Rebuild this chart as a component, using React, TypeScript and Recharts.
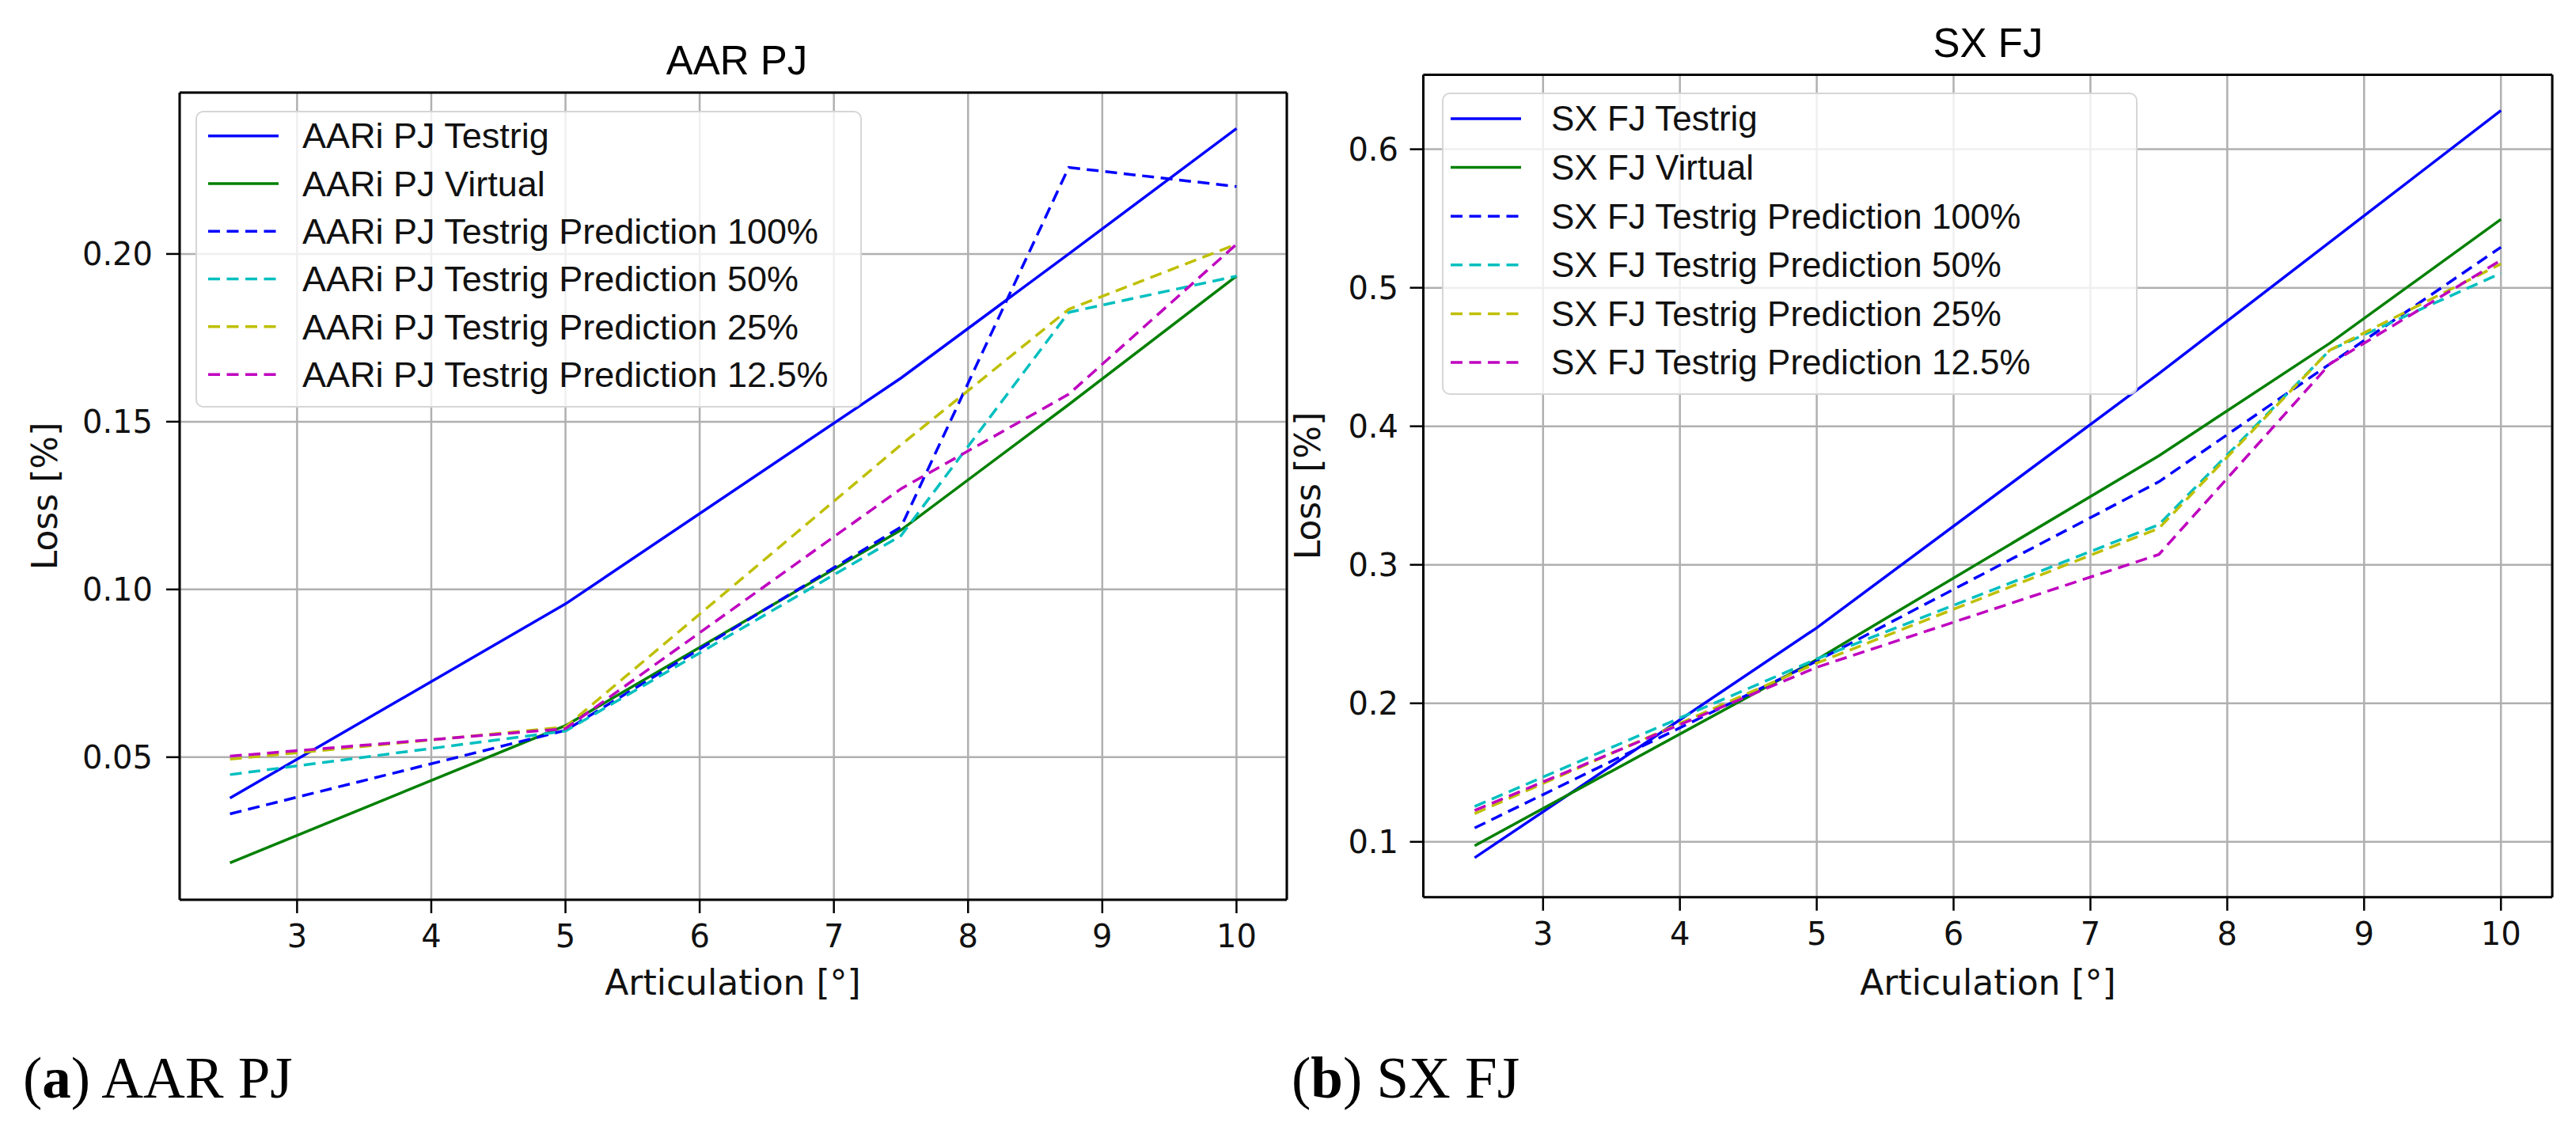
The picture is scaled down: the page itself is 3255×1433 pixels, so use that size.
import React from 'react';
import {
  LineChart, Line, XAxis, YAxis, CartesianGrid, Legend, ReferenceLine
} from 'recharts';

// articulation angles where the losses were sampled
const angles = [2.5, 5, 7.5, 8.75, 10];
const xTicks = [3, 4, 5, 6, 7, 8, 9, 10];

// (a) AAR PJ
const aarNames = [
  'AARi PJ Testrig',
  'AARi PJ Virtual',
  'AARi PJ Testrig Prediction 100%',
  'AARi PJ Testrig Prediction 50%',
  'AARi PJ Testrig Prediction 25%',
  'AARi PJ Testrig Prediction 12.5%',
];
const aarTestrig = [0.0378, 0.0957, 0.163, 0.2, 0.2374];
const aarVirtual = [0.0185, 0.0594, 0.1177, 0.1551, 0.1934];
const aarPred100 = [0.0331, 0.058, 0.1186, 0.2258, 0.2201];
const aarPred50 = [0.0448, 0.0578, 0.116, 0.1826, 0.1934];
const aarPred25 = [0.0494, 0.059, 0.1431, 0.1835, 0.2029];
const aarPred125 = [0.0503, 0.0585, 0.13, 0.1582, 0.2029];
const aarTicks = [0.05, 0.1, 0.15, 0.2];

// (b) SX FJ
const sxNames = [
  'SX FJ Testrig',
  'SX FJ Virtual',
  'SX FJ Testrig Prediction 100%',
  'SX FJ Testrig Prediction 50%',
  'SX FJ Testrig Prediction 25%',
  'SX FJ Testrig Prediction 12.5%',
];
const sxTestrig = [0.0885, 0.2545, 0.438, 0.533, 0.628];
const sxVirtual = [0.0972, 0.2316, 0.3787, 0.46, 0.5494];
const sxPred100 = [0.11, 0.2305, 0.3599, 0.445, 0.5293];
const sxPred50 = [0.1255, 0.232, 0.329, 0.455, 0.5105];
const sxPred25 = [0.1204, 0.229, 0.3263, 0.455, 0.5172];
const sxPred125 = [0.1226, 0.226, 0.3074, 0.445, 0.5199];
const sxTicks = [0.1, 0.2, 0.3, 0.4, 0.5, 0.6];

const DASH = '15 8.5';
const seriesStyle = [
  { color: '#0000ff', dash: undefined },
  { color: '#008000', dash: undefined },
  { color: '#0000ff', dash: DASH },
  { color: '#00bfbf', dash: DASH },
  { color: '#bfbf00', dash: DASH },
  { color: '#bf00bf', dash: DASH },
];

const toRows = (series: number[][]) =>
  angles.map((a, i) => {
    const row: Record<string, number> = { angle: a };
    series.forEach((s, k) => { row['s' + k] = s[i]; });
    return row;
  });

const aarData = toRows([aarTestrig, aarVirtual, aarPred100, aarPred50, aarPred25, aarPred125]);
const sxData = toRows([sxTestrig, sxVirtual, sxPred100, sxPred50, sxPred25, sxPred125]);

const tickFont = { fontSize: 40, fontFamily: 'DejaVu Sans', fill: '#111' };

function LegendBox({ names, w, h, padTop, rowH, lineX, textX, fontSize }: any) {
  return (
    <div style={{
      width: w, height: h, boxSizing: 'border-box', position: 'relative',
      border: '2.5px solid #d6d6d6', borderRadius: 10, background: 'rgba(255,255,255,0.8)',
    }}>
      <svg width={w} height={h} style={{ position: 'absolute', left: -2.5, top: -2.5 }}>
        {names.map((n: string, i: number) => {
          const cy = padTop + rowH * i + rowH / 2;
          const st = seriesStyle[i];
          return (
            <g key={n}>
              <line x1={lineX} x2={lineX + 89} y1={cy} y2={cy} stroke={st.color}
                strokeWidth={3.5} strokeDasharray={st.dash} />
              <text x={textX} y={cy + fontSize * 0.35} fontSize={fontSize}
                fontFamily="Liberation Sans, Arial" fill="#111">{n}</text>
            </g>
          );
        })}
      </svg>
    </div>
  );
}

function Panel({ data, names, width, height, margin, yDomain, yTicks, yFmt, yTickMargin, legend }: any) {
  return (
    <LineChart width={width} height={height} data={data} margin={margin}>
      <CartesianGrid stroke="#b0b0b0" strokeWidth={2.5} />
      <XAxis dataKey="angle" type="number" domain={[2.125, 10.375]} ticks={xTicks}
        allowDataOverflow height={130} tick={tickFont} tickSize={17} tickMargin={14.6}
        axisLine={{ stroke: '#000', strokeWidth: 3 }} tickLine={{ stroke: '#000', strokeWidth: 2.5 }} />
      <YAxis type="number" domain={yDomain} ticks={yTicks} allowDataOverflow width={120}
        tickFormatter={yFmt} tick={tickFont} tickSize={17} tickMargin={yTickMargin}
        axisLine={{ stroke: '#000', strokeWidth: 3 }} tickLine={{ stroke: '#000', strokeWidth: 2.5 }} />
      <ReferenceLine y={yDomain[1]} stroke="#000" strokeWidth={3} ifOverflow="visible" />
      <ReferenceLine x={10.375} stroke="#000" strokeWidth={3} ifOverflow="visible" />
      {names.map((n: string, i: number) => (
        <Line key={n} type="linear" dataKey={'s' + i} name={n} stroke={seriesStyle[i].color}
          strokeWidth={3.5} strokeDasharray={seriesStyle[i].dash} dot={false}
          isAnimationActive={false} />
      ))}
      <Legend layout="vertical" align="center" verticalAlign="middle"
        wrapperStyle={{ left: legend.left, top: legend.top, width: legend.w, height: legend.h }}
        content={() => <LegendBox names={names} {...legend} />} />
    </LineChart>
  );
}

export default function App() {
  const label = { fontFamily: 'DejaVu Sans', fontSize: 44, fill: '#111' };
  const title = { fontFamily: 'Liberation Sans, Arial', fontSize: 51, fill: '#000' };
  const caption = { fontFamily: 'Liberation Serif, serif', fontSize: 73, fill: '#000' };
  return (
    <div style={{ position: 'absolute', left: 0, top: 0, width: 3255, height: 1433, background: '#fff', overflow: 'hidden' }}>
      <div style={{ position: 'absolute', left: 0, top: 0 }}>
        <Panel data={aarData} names={aarNames} width={1660} height={1300}
          margin={{ top: 117, left: 107, right: 34, bottom: 33 }}
          yDomain={[0.0075, 0.2481]} yTicks={aarTicks} yFmt={(v: number) => v.toFixed(2)} yTickMargin={17}
          legend={{ left: 247, top: 140, w: 842, h: 375, padTop: 1.5, rowH: 60.3, lineX: 16, textX: 135, fontSize: 45 }} />
      </div>
      <div style={{ position: 'absolute', left: 1640, top: 0 }}>
        <Panel data={sxData} names={sxNames} width={1615} height={1300}
          margin={{ top: 94.6, left: 38.5, right: 30, bottom: 36.2 }}
          yDomain={[0.06, 0.6537]} yTicks={sxTicks} yFmt={(v: number) => v.toFixed(1)} yTickMargin={14.5}
          legend={{ left: 182, top: 117, w: 879, h: 382, padTop: 2.2, rowH: 61.6, lineX: 11, textX: 138, fontSize: 44 }} />
      </div>
      <svg width={3255} height={1433} style={{ position: 'absolute', left: 0, top: 0, pointerEvents: 'none' }}>
        <text x={931} y={94} textAnchor="middle" {...title}>AAR PJ</text>
        <text x={2512} y={72} textAnchor="middle" {...title}>SX FJ</text>
        <text x={926} y={1257} textAnchor="middle" {...label}>Articulation [°]</text>
        <text x={2512} y={1257} textAnchor="middle" {...label}>Articulation [°]</text>
        <text x={72} y={627} textAnchor="middle" transform="rotate(-90 72 627)" {...label}>Loss [%]</text>
        <text x={1668} y={614} textAnchor="middle" transform="rotate(-90 1668 614)" {...label}>Loss [%]</text>
        <text x={29} y={1387} {...caption}>(<tspan fontWeight="bold">a</tspan>) AAR PJ</text>
        <text x={1632} y={1387} {...caption}>(<tspan fontWeight="bold">b</tspan>) SX FJ</text>
      </svg>
    </div>
  );
}
